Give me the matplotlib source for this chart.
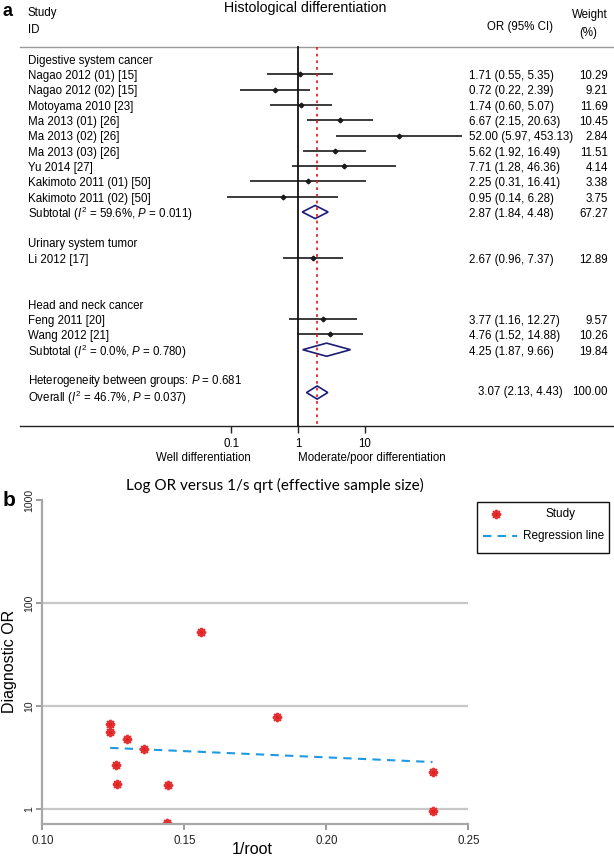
import matplotlib
matplotlib.use("Agg")
import matplotlib.pyplot as plt
from matplotlib.lines import Line2D
from matplotlib.patches import Polygon, Rectangle

plt.rcParams['font.family'] = ['Liberation Sans', 'DejaVu Sans']
plt.rcParams['mathtext.fontset'] = 'custom'
plt.rcParams['mathtext.rm'] = 'Liberation Sans'
plt.rcParams['mathtext.it'] = 'Liberation Sans:italic'

# ---------------- Panel a data ----------------
study_labels = ["Nagao 2012 (01) [15]", "Nagao 2012 (02) [15]", "Motoyama 2010 [23]",
                "Ma 2013 (01) [26]", "Ma 2013 (02) [26]", "Ma 2013 (03) [26]",
                "Yu 2014 [27]", "Kakimoto 2011 (01) [50]", "Kakimoto 2011 (02) [50]",
                "Li 2012 [17]", "Feng 2011 [20]", "Wang 2012 [21]"]
study_or = [1.71, 0.72, 1.74, 6.67, 52.00, 5.62, 7.71, 2.25, 0.95, 2.67, 3.77, 4.76]
study_lo = [0.55, 0.22, 0.60, 2.15, 5.97, 1.92, 1.28, 0.31, 0.14, 0.96, 1.16, 1.52]
study_hi = [5.35, 2.39, 5.07, 20.63, 453.13, 16.49, 46.36, 16.41, 6.28, 7.37, 12.27, 14.88]
study_weight = [10.29, 9.21, 11.69, 10.45, 2.84, 11.51, 4.14, 3.38, 3.75, 12.89, 9.57, 10.26]
study_group = [0] * 9 + [1] + [2] * 2

group_names = ["Digestive system cancer", "Urinary system tumor", "Head and neck cancer"]
subtotal_labels = ["Subtotal ($I^2$ = 59.6%, $P$ = 0.011)", None,
                   "Subtotal ($I^2$ = 0.0%, $P$ = 0.780)"]
subtotal_or = [2.87, None, 4.25]
subtotal_lo = [1.84, None, 1.87]
subtotal_hi = [4.48, None, 9.66]
subtotal_weight = [67.27, None, 19.84]

heterogeneity_label = "Heterogeneity between groups: $P$ = 0.681"
overall_label = "Overall ($I^2$ = 46.7%, $P$ = 0.037)"
overall_or, overall_lo, overall_hi, overall_weight = 3.07, 2.13, 4.43, 100.00

axis_tick_values = [0.1, 1, 10]
axis_tick_labels = ["0.1", "1", "10"]
left_favour = "Well differentiation"
right_favour = "Moderate/poor differentiation"

# ---------------- Panel b data ----------------
b_inv_root = [0.1560, 0.1828, 0.1239, 0.1239, 0.1298, 0.1358, 0.1259, 0.1263,
              0.1441, 0.2374, 0.2374, 0.1439]
b_dor = [52.00, 7.71, 6.67, 5.62, 4.76, 3.77, 2.67, 1.74, 1.71, 2.25, 0.95, 0.72]
reg_x = [0.1239, 0.2374]
reg_y = [3.90, 2.84]
b_xticks = [0.10, 0.15, 0.20, 0.25]
b_yticks = [1, 10, 100, 1000]

# ---------------- Layout ----------------
W, H = 614, 858
fig = plt.figure(figsize=(W / 100, H / 100), dpi=100)

def fx(px):
    return px / W

def fy(py):
    return 1 - py / H

ROW0, ROWH = 59.0, 15.3          # pixel y of row 0 and row spacing
A_BOTTOM = 480.0
ONE_PX, DEC_PX = 284.5, 67.0      # pixel x of OR=1 and pixels per decade
AXIS_SHIFT = 10 ** ((298 - ONE_PX) / DEC_PX)   # null line / tick offset seen in the figure

def r_of(py):
    return (py - ROW0) / ROWH

axa = fig.add_axes([0, fy(A_BOTTOM), 1, A_BOTTOM / H])
axa.set_xscale('log')
axa.set_xlim(10 ** (-ONE_PX / DEC_PX), 10 ** ((W - ONE_PX) / DEC_PX))
axa.set_ylim(r_of(A_BOTTOM), r_of(0))
axa.axis('off')
yt = axa.get_yaxis_transform()   # x in axes fraction, y in rows

FS = 8.3
LABEL_X = fx(28)
OR_X = fx(469)
WT_X = fx(608)
ci_col = '#1a1a1a'
dia_col = '#1c1c78'

# header
fig.text(fx(3), fy(12), "a", fontsize=13, fontweight='bold', va='center', ha='left')
axa.text(fx(305), r_of(8), "Histological differentiation", transform=yt,
         fontsize=10.2, ha='center', va='center')
axa.text(LABEL_X, r_of(13), "Study", transform=yt, fontsize=FS, va='center')
axa.text(LABEL_X, r_of(30), "ID", transform=yt, fontsize=FS, va='center')
axa.text(fx(520), r_of(27), "OR (95% CI)", transform=yt, fontsize=FS, va='center', ha='center')
axa.text(fx(590), r_of(15), "Weight", transform=yt, fontsize=FS, va='center', ha='center')
axa.text(fx(588), r_of(33), "(%)", transform=yt, fontsize=FS, va='center', ha='center')

r_top = r_of(47)
r_axis = r_of(426)
axa.add_line(Line2D([fx(20), 1], [r_top, r_top], transform=yt, color='#9a9a9a', lw=1.0))
axa.add_line(Line2D([fx(20), 1], [r_axis, r_axis], transform=yt, color='#222222', lw=1.0))

# rows
row = 0
txt_off = 0.12
h = 0.43
for g, gname in enumerate(group_names):
    axa.text(LABEL_X, row + txt_off, gname, transform=yt, fontsize=FS, va='center')
    row += 1
    for i in range(len(study_labels)):
        if study_group[i] != g:
            continue
        axa.text(LABEL_X, row + txt_off, study_labels[i], transform=yt, fontsize=FS, va='center')
        axa.plot([study_lo[i], study_hi[i]], [row, row], color=ci_col, lw=1.2, solid_capstyle='butt')
        axa.plot([study_or[i]], [row], marker='D', ms=2.4, color=ci_col)
        axa.text(OR_X, row + txt_off, f"{study_or[i]:.2f} ({study_lo[i]:.2f}, {study_hi[i]:.2f})",
                 transform=yt, fontsize=FS, va='center', ha='left')
        axa.text(WT_X, row + txt_off, f"{study_weight[i]:.2f}", transform=yt, fontsize=FS,
                 va='center', ha='right')
        row += 1
    if subtotal_labels[g] is not None:
        axa.text(LABEL_X, row + txt_off, subtotal_labels[g], transform=yt, fontsize=FS, va='center')
        axa.add_patch(Polygon([(subtotal_lo[g], row), (subtotal_or[g], row - h),
                               (subtotal_hi[g], row), (subtotal_or[g], row + h)],
                              closed=True, fill=False, edgecolor=dia_col, lw=1.2))
        axa.text(OR_X, row + txt_off,
                 f"{subtotal_or[g]:.2f} ({subtotal_lo[g]:.2f}, {subtotal_hi[g]:.2f})",
                 transform=yt, fontsize=FS, va='center', ha='left')
        axa.text(WT_X, row + txt_off, f"{subtotal_weight[g]:.2f}", transform=yt, fontsize=FS,
                 va='center', ha='right')
        row += 2
    else:
        row += 2

# heterogeneity / overall
axa.text(LABEL_X, row + txt_off - 0.1, heterogeneity_label, transform=yt, fontsize=FS, va='center')
row += 1
axa.text(LABEL_X, row + txt_off, overall_label, transform=yt, fontsize=FS, va='center')
axa.add_patch(Polygon([(overall_lo, row - 0.2), (overall_or, row - 0.2 - h),
                       (overall_hi, row - 0.2), (overall_or, row - 0.2 + h)],
                      closed=True, fill=False, edgecolor=dia_col, lw=1.2))
axa.text(OR_X + fx(9), row - 0.25, f"{overall_or:.2f} ({overall_lo:.2f}, {overall_hi:.2f})",
         transform=yt, fontsize=FS, va='center', ha='left')
axa.text(WT_X, row - 0.25, f"{overall_weight:.2f}", transform=yt, fontsize=FS,
         va='center', ha='right')

# null line and overall line
axa.plot([AXIS_SHIFT, AXIS_SHIFT], [r_top, r_axis], color='#111111', lw=1.3)
axa.plot([overall_or, overall_or], [r_top, r_axis], color='#ee2020', lw=1.3, ls=(0, (1.5, 2.2)))

# axis ticks and labels
tick_pos = [v * AXIS_SHIFT for v in axis_tick_values]
axa.vlines(tick_pos, r_axis, r_axis + 7 / ROWH, color='#222222', lw=1.0)
for p, lab in zip(tick_pos, axis_tick_labels):
    axa.text(p, r_of(444), lab, fontsize=FS, ha='center', va='center')
axa.text(fx(251), r_of(458), left_favour, transform=yt, fontsize=FS, ha='right', va='center')
axa.text(AXIS_SHIFT, r_of(458), right_favour, fontsize=FS, ha='left', va='center')

# ---------------- Panel b ----------------
axb = fig.add_axes([fx(42.3), fy(824), (468.3 - 42.3) / W, (824 - 500) / H])
axb.set_yscale('log')
axb.set_xlim(0.10, 0.25)
axb.set_ylim(10 ** (-(824 - 808.7) / 102.7), 1000)
axb.set_yticks(b_yticks)
axb.set_yticklabels([str(v) for v in b_yticks], rotation=90, va='center', fontsize=7.5,
                    color='#333333')
axb.yaxis.set_minor_locator(matplotlib.ticker.NullLocator())
axb.set_xticks(b_xticks)
axb.set_xticklabels([f"{v:.2f}" for v in b_xticks], fontsize=8.3, color='#222222')
axb.tick_params(axis='both', colors='#8a8a8a', length=4, width=1.2, labelcolor='#222222')
axb.tick_params(axis='x', pad=4)
axb.tick_params(axis='y', pad=2)
for s in ['top', 'right']:
    axb.spines[s].set_visible(False)
for s in ['left', 'bottom']:
    axb.spines[s].set_color('#a8a8a8')
    axb.spines[s].set_linewidth(1.6)
axb.yaxis.grid(True, color='#c8c8c8', lw=1.6)
axb.set_axisbelow(True)
axb.get_ygridlines()[-1].set_visible(False)

star = (8, 1, 0)
axb.plot(reg_x, reg_y, color='#1e9be0', lw=1.5, ls=(0, (4, 3)))
axb.plot(b_inv_root, b_dor, ls='none', marker=star, ms=6.5, color='#e02020',
         mec='#e43030', mew=1.4)

fig.text(fx(275), fy(485), "Log OR versus 1/s qrt (effective sample size)", family='Lato',
         fontsize=11, ha='center', va='center')
fig.text(fx(3), fy(500), "b", fontsize=15, fontweight='bold', va='center', ha='left')
fig.text(fx(10), fy(661), "Diagnostic OR", fontsize=11.5, rotation=90, ha='center', va='center')
fig.text(fx(252), fy(849), "1/root", fontsize=11.5, ha='center', va='center')

# legend (drawn manually)
fig.patches.append(Rectangle((fx(476.7), fy(552.7)), fx(609) - fx(476.7), fy(502) - fy(552.7),
                             transform=fig.transFigure, fill=False, edgecolor='#111111', lw=1.0))
fig.lines.append(Line2D([fx(495.7)], [fy(514)], transform=fig.transFigure, ls='none',
                        marker=star, ms=6.5, color='#e02020', mec='#e43030', mew=1.4))
fig.text(fx(561), fy(514), "Study", fontsize=8.5, ha='center', va='center')
fig.lines.append(Line2D([fx(483), fx(517)], [fy(535.7), fy(535.7)], transform=fig.transFigure,
                        color='#1e9be0', lw=1.5, ls=(0, (4, 3))))
fig.text(fx(523), fy(535.7), "Regression line", fontsize=8.5, ha='left', va='center')

fig.savefig("out.png", dpi=100, facecolor='white')
